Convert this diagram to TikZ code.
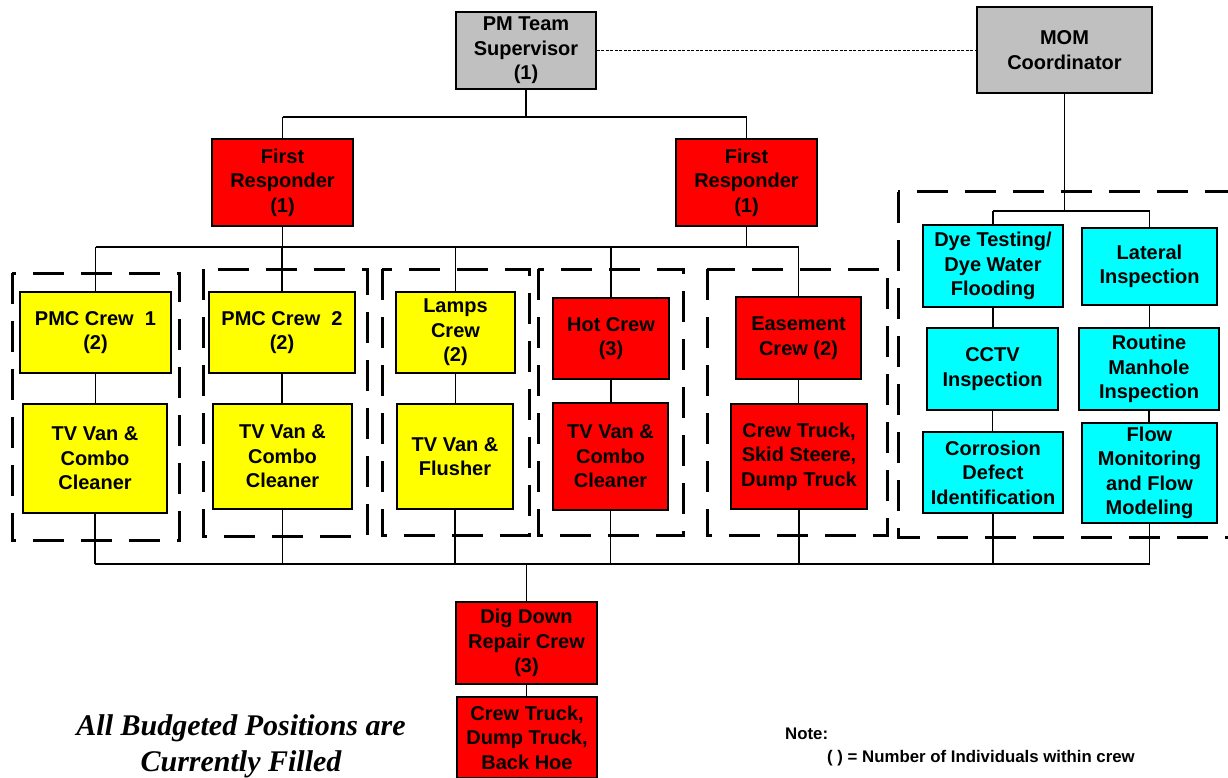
\documentclass[tikz,border=0pt]{standalone}
\usepackage{fontspec}
\setmainfont{Liberation Sans}
\newfontfamily\notefont{Liberation Serif}
\definecolor{mgrgray}{RGB}{192,192,192}
\definecolor{crewred}{RGB}{255,0,0}
\definecolor{crewyellow}{RGB}{255,255,0}
\definecolor{taskcyan}{RGB}{0,255,255}
\begin{document}
\begin{tikzpicture}[x=1pt,y=-1pt,
  box/.style={draw=black, line width=1.6pt, rectangle, inner sep=0pt, align=center,
    font=\fontsize{20}{24.5}\selectfont\bfseries},
  mgr/.style={box, fill=mgrgray},
  red/.style={box, fill=crewred},
  yel/.style={box, fill=crewyellow},
  cya/.style={box, fill=taskcyan},
  heavy/.style={line width=1.8pt},
  thin/.style={line width=1.1pt},
  grp/.style={line width=3pt, dash pattern=on 31pt off 17pt},
  link/.style={line width=0.8pt, dash pattern=on 3pt off 1.5pt},
  legendtext/.style={anchor=base west, inner sep=0pt, font=\fontsize{16.8}{20}\selectfont\bfseries}]

% page frame
\fill[white] (0,0) rectangle (1228,778);
\useasboundingbox (0,0) rectangle (1228,778);

% crew groups
\draw[grp] (12,273) rectangle (179,540);
\draw[grp] (203,269) rectangle (367,536);
\draw[grp] (382,269) rectangle (529,535);
\draw[grp] (538,269) rectangle (683,535);
\draw[grp] (707,269) rectangle (887,535);
\draw[grp] (898,192) rectangle (1250,537);

% management
\node[mgr, minimum width=140pt, minimum height=77pt] (pm) at (526,50.5) {PM Team\\Supervisor\\(1)};
\node[mgr, minimum width=175pt, minimum height=86pt] (mom) at (1064.5,50) {MOM\\Coordinator};

% first responders
\node[red, minimum width=141pt, minimum height=87pt] (fr1) at (282.5,182.5) {First\\Responder\\(1)};
\node[red, minimum width=141pt, minimum height=87pt] (fr2) at (746.5,182.5) {First\\Responder\\(1)};

% crews
\node[yel, minimum width=151pt, minimum height=81pt] (pmc1) at (95.5,332.5) {PMC Crew\ \ 1\\(2)};
\node[yel, minimum width=144pt, minimum height=109pt] (tv1) at (95,458.5) {TV Van \&\\Combo\\Cleaner};
\node[yel, minimum width=146pt, minimum height=81pt] (pmc2) at (282,332.5) {PMC Crew\ \ 2\\(2)};
\node[yel, minimum width=139pt, minimum height=105pt] (tv2) at (282.5,456.5) {TV Van \&\\Combo\\Cleaner};
\node[yel, minimum width=119pt, minimum height=81pt] (lamps) at (455.5,332.5) {Lamps\\Crew\\(2)};
\node[yel, minimum width=116pt, minimum height=105pt] (tvf) at (455,456.5) {TV Van \&\\Flusher};
\node[red, minimum width=116pt, minimum height=81pt] (hot) at (611,338.5) {Hot Crew\\(3)};
\node[red, minimum width=115pt, minimum height=107pt] (tvh) at (610.5,456.5) {TV Van \&\\Combo\\Cleaner};
\node[red, minimum width=125pt, minimum height=82pt] (ease) at (798.5,338) {Easement\\Crew (2)};
\node[red, minimum width=136pt, minimum height=105pt] (truck) at (799,456.5) {Crew Truck,\\Skid Steere,\\Dump Truck};

% MOM tasks
\node[cya, minimum width=140pt, minimum height=82pt] (dye) at (993,266) {Dye Testing/\\Dye Water\\Flooding};
\node[cya, minimum width=135pt, minimum height=77pt] (lat) at (1149.5,266.5) {Lateral\\Inspection};
\node[cya, minimum width=131pt, minimum height=82pt] (cctv) at (992.5,369) {CCTV\\Inspection};
\node[cya, minimum width=140pt, minimum height=82pt] (rout) at (1149,369) {Routine\\Manhole\\Inspection};
\node[cya, minimum width=140pt, minimum height=81pt] (corr) at (993,472.5) {Corrosion\\Defect\\Identification};
\node[cya, minimum width=135pt, minimum height=100pt] (flow) at (1149.5,473) {Flow\\Monitoring\\and Flow\\Modeling};

% dig down crew
\node[red, minimum width=141pt, minimum height=82pt] (dig) at (526.5,643) {Dig Down\\Repair Crew\\(3)};
\node[red, minimum width=140pt, minimum height=81pt] (dtruck) at (527,737.5) {Crew Truck,\\Dump Truck,\\Back Hoe};

% bus levels
\coordinate (busA) at (0,117);
\coordinate (busB) at (0,247);
\coordinate (busC) at (0,564);
\coordinate (busD) at (0,211);

% supervisor to first responders
\draw[heavy] (pm.south) -- (pm.south |- busA);
\draw[heavy] (fr1.north |- busA) -- (fr2.north |- busA);
\draw[heavy] (fr1.north |- busA) -- (fr1.north);
\draw[heavy] (fr2.north |- busA) -- (fr2.north);
\draw[link] (pm.east) -- (pm.east -| mom.west);

% first responders to crews
\draw[heavy] (fr1.south) -- (fr1.south |- busB);
\draw[heavy] (fr2.south) -- (fr2.south |- busB);
\draw[thin] (pmc1.north |- busB) -- (ease.north |- busB);
\foreach \c in {pmc1,pmc2,lamps,hot,ease}
  \draw[thin] (\c.north |- busB) -- (\c.north);

% crews to vehicles
\draw[thin] (pmc1.south) -- (pmc1.south |- tv1.north);
\draw[thin] (pmc2.south) -- (pmc2.south |- tv2.north);
\draw[thin] (lamps.south) -- (lamps.south |- tvf.north);
\draw[thin] (hot.south) -- (hot.south |- tvh.north);
\draw[thin] (ease.south) -- (ease.south |- truck.north);

% MOM coordinator to tasks
\draw[thin] (mom.south) -- (mom.south |- busD);
\draw[thin] (dye.north |- busD) -- (lat.north |- busD);
\draw[thin] (dye.north |- busD) -- (dye.north);
\draw[thin] (lat.north |- busD) -- (lat.north);
\draw[thin] (dye.south) -- (dye.south |- cctv.north);
\draw[thin] (cctv.south) -- (cctv.south |- corr.north);
\draw[thin] (lat.south) -- (lat.south |- rout.north);
\draw[thin] (rout.south) -- (rout.south |- flow.north);

% bottom bus to dig down crew
\draw[thin] (tv1.south |- busC) -- (flow.south |- busC);
\foreach \c in {tv1,tv2,tvf,tvh,truck,corr,flow}
  \draw[thin] (\c.south) -- (\c.south |- busC);
\draw[thin] (dig.north |- busC) -- (dig.north);
\draw[thin] (dig.south) -- (dig.south |- dtruck.north);

% notes (base anchor sits on the last line)
\node[align=center, anchor=base, inner sep=0pt, font=\notefont\fontsize{30}{36}\selectfont\bfseries\itshape] (budget) at (241,771) {All Budgeted Positions are\\Currently Filled};
\node[legendtext] (note) at (785,739) {Note:};
\node[legendtext] (legend) at (827,762) {( ) = Number of Individuals within crew};
\end{tikzpicture}
\end{document}
